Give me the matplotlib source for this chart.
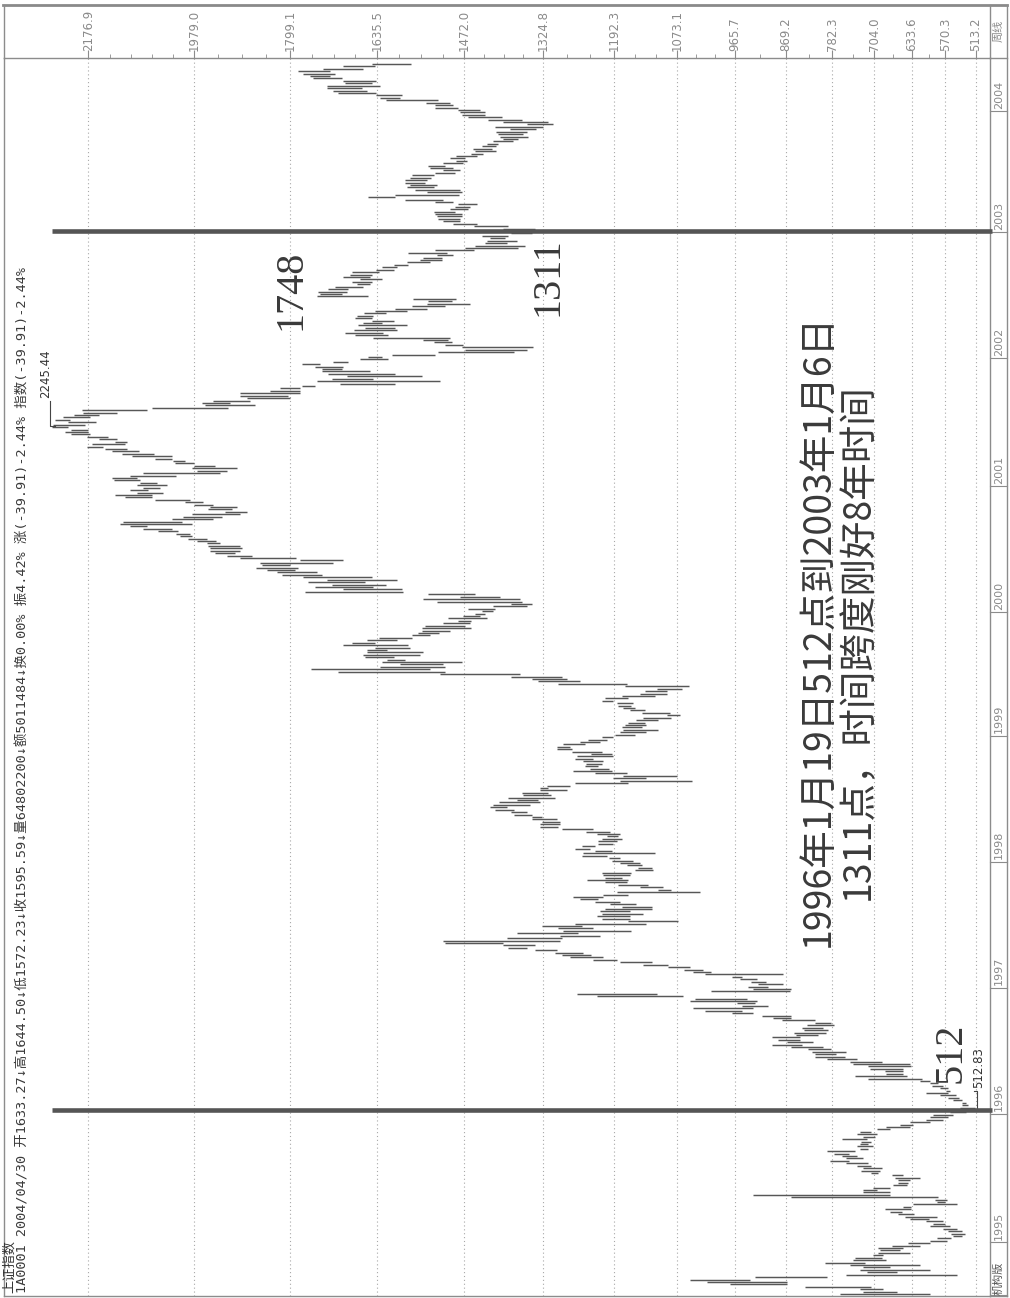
import numpy as np
import matplotlib
matplotlib.use("Agg")
import matplotlib.pyplot as plt
from matplotlib.lines import Line2D
from matplotlib import transforms

# weekly bars of the Shanghai Composite (low, high), oldest week first
lo_1994 = [599, 662, 687, 709, 868, 868, 937, 793, 549, 662, 599, 674, 618, 721, 681, 690, 687, 637, 656, 649, 618, 599]
hi_1994 = [768, 724, 730, 834, 974, 1018, 1049, 927, 756, 718, 730, 724, 749, 796, 743, 740, 706, 696, 693, 696, 671, 640]

lo_1995 = [568, 559, 540, 534, 540, 549, 562, 571, 575, 602, 587, 630, 652, 634, 634, 549, 571, 568, 584, 674,
           674, 699, 674, 643, 640, 637, 618, 649, 696, 693, 690, 709, 715, 752, 724, 737, 752, 740, 715, 706,
           715, 709, 718, 702, 699, 709, 674, 637, 631, 599, 575, 565, 556]
hi_1995 = [599, 587, 556, 559, 565, 575, 599, 593, 606, 637, 646, 660, 674, 684, 649, 631, 587, 590, 859, 931,
           724, 724, 706, 668, 659, 659, 665, 671, 709, 728, 724, 737, 756, 787, 756, 765, 780, 793, 730, 737,
           730, 728, 765, 724, 737, 730, 699, 681, 656, 637, 606, 600, 593]

lo_1996 = [531, 512.83, 515, 528, 531, 540, 545, 550, 565, 562, 565, 575, 584, 599, 615, 643, 649, 649, 649, 634,
           637, 690, 737, 759, 775, 756, 784, 799, 840, 818, 843, 843, 810, 795, 790, 800, 780, 785, 815, 859,
           859, 931, 952, 931, 903, 927, 924, 943, 1062, 1112, 862, 859]
hi_1996 = [561, 535, 543, 540, 540, 556, 565, 580, 606, 570, 581, 595, 599, 618, 715, 740, 681, 684, 712, 715,
           743, 750, 793, 815, 815, 821, 828, 859, 896, 868, 884, 896, 850, 855, 835, 840, 830, 815, 877, 893,
           915, 971, 1021, 1043, 952, 962, 1049, 1040, 1224, 1262, 1009, 931]

lo_1997 = [903, 874, 906, 924, 952, 874, 1009, 1025, 1049, 1090, 1121, 1187, 1212, 1235, 1249, 1299, 1355, 1340, 1399, 1293,
           1290, 1218, 1259, 1159, 1231, 1252, 1131, 1071, 1162, 1162, 1137, 1162, 1121, 1121, 1150, 1180, 1221, 1212, 1165, 1030,
           1084, 1099, 1128, 1168, 1165, 1177, 1162, 1159, 1118, 1121, 1140, 1143]
hi_1997 = [940, 921, 934, 956, 971, 1021, 1043, 1060, 1090, 1137, 1180, 1231, 1274, 1290, 1302, 1340, 1390, 1399, 1509, 1512,
           1393, 1293, 1374, 1287, 1296, 1327, 1265, 1165, 1215, 1224, 1215, 1218, 1209, 1177, 1200, 1227, 1255, 1268, 1212, 1187,
           1109, 1143, 1184, 1209, 1243, 1209, 1212, 1215, 1152, 1146, 1168, 1180]

lo_1998 = [1156, 1180, 1205, 1115, 1196, 1237, 1227, 1193, 1187, 1177, 1184, 1180, 1200, 1231, 1296, 1293, 1293, 1299, 1327, 1346,
           1355, 1380, 1393, 1349, 1330, 1334, 1302, 1309, 1315, 1280, 1315, 1274, 1165, 1046, 1131, 1074, 1168, 1196, 1202, 1221,
           1215, 1212, 1231, 1193, 1196, 1215, 1271, 1274, 1246, 1218, 1205, 1193]
hi_1998 = [1196, 1202, 1252, 1249, 1227, 1265, 1252, 1221, 1221, 1215, 1205, 1224, 1245, 1290, 1330, 1330, 1327, 1346, 1346, 1380,
           1384, 1415, 1424, 1418, 1408, 1374, 1390, 1362, 1365, 1330, 1330, 1318, 1265, 1180, 1193, 1174, 1227, 1268, 1237, 1246,
           1245, 1249, 1265, 1262, 1234, 1271, 1299, 1299, 1287, 1255, 1240, 1215]

lo_1999 = [1152, 1131, 1109, 1140, 1131, 1134, 1110, 1084, 1068, 1087, 1134, 1152, 1159, 1156, 1193, 1165, 1115, 1093, 1093, 1065,
           1052, 1168, 1255, 1280, 1290, 1368, 1509, 1537, 1509, 1512, 1477, 1584, 1605, 1555, 1549, 1618, 1574, 1577, 1640, 1599,
           1571, 1537, 1520, 1499, 1459, 1471, 1462, 1459, 1430, 1443, 1434]
hi_1999 = [1190, 1180, 1174, 1177, 1171, 1165, 1150, 1137, 1093, 1140, 1162, 1174, 1184, 1187, 1215, 1209, 1177, 1143, 1134, 1112,
           1171, 1296, 1334, 1345, 1384, 1518, 1709, 1759, 1630, 1593, 1627, 1618, 1658, 1662, 1655, 1655, 1640, 1699, 1683, 1655,
           1633, 1571, 1560, 1552, 1552, 1546, 1512, 1484, 1502, 1474, 1452]

lo_2000 = [1418, 1415, 1355, 1346, 1365, 1368, 1405, 1452, 1587, 1590, 1643, 1620, 1658, 1599, 1646, 1740, 1749, 1790, 1784, 1799,
           1718, 1699, 1787, 1871, 1902, 1893, 1890, 1893, 1930, 1937, 1955, 1983, 1987, 2009, 2021, 2068, 1983, 2002, 1943, 1927,
           1893, 1880, 1908, 1899, 1943, 1962, 1987, 2058, 2058, 2037, 2065, 2043]
hi_2000 = [1440, 1465, 1418, 1384, 1524, 1549, 1480, 1540, 1771, 1699, 1752, 1720, 1765, 1730, 1774, 1815, 1824, 1843, 1862, 1852,
           1855, 1780, 1893, 1918, 1940, 1949, 1949, 1952, 1955, 1974, 1990, 2005, 2012, 2046, 2074, 2099, 2118, 2112, 2021, 1999,
           1983, 1921, 1952, 1949, 1980, 1996, 2052, 2108, 2127, 2086, 2099, 2074]

lo_2001 = [2030, 2049, 2080, 2086, 2012, 1930, 1918, 1899, 1940, 1980, 1996, 2021, 2021, 2055, 2083, 2105, 2149, 2109, 2105, 2124,
           2140, 2174, 2177, 2177, 2215, 2184, 2162, 2212, 2174, 2158, 2124, 2068, 1915, 1865, 1912, 1874, 1799, 1803, 1780, 1780,
           1780, 1752, 1602, 1518, 1643, 1552, 1602, 1649, 1702, 1699, 1743, 1690, 1615]
hi_2001 = [2086, 2080, 2130, 2133, 2099, 2074, 1974, 1983, 1980, 2015, 2018, 2052, 2096, 2115, 2133, 2146, 2180, 2171, 2128, 2158,
           2180, 2209, 2221, 2209, 2245.44, 2243, 2215, 2240, 2224, 2205, 2187, 2190, 2058, 1959, 1965, 1943, 1880, 1893, 1893, 1837,
           1818, 1777, 1705, 1749, 1721, 1693, 1727, 1740, 1740, 1752, 1777, 1718, 1668]

lo_2002 = [1627, 1527, 1380, 1355, 1343, 1474, 1496, 1502, 1499, 1615, 1624, 1599, 1602, 1580, 1627, 1605, 1646, 1643, 1620, 1580,
           1543, 1509, 1462, 1496, 1487, 1652, 1702, 1693, 1690, 1662, 1649, 1646, 1627, 1649, 1646, 1633, 1605, 1599, 1577, 1537,
           1515, 1515, 1493, 1505, 1455, 1371, 1358, 1393, 1374, 1396, 1390, 1345]
hi_2002 = [1652, 1608, 1521, 1471, 1477, 1509, 1530, 1549, 1643, 1677, 1696, 1680, 1658, 1671, 1662, 1646, 1677, 1674, 1660, 1640,
           1602, 1571, 1543, 1540, 1568, 1748.89, 1743, 1746, 1727, 1715, 1674, 1683, 1668, 1699, 1687, 1683, 1637, 1627, 1605, 1580,
           1555, 1549, 1524, 1577, 1527, 1471, 1452, 1433, 1430, 1424, 1440, 1385]

lo_2003 = [1311, 1340, 1390, 1449, 1480, 1480, 1477, 1477, 1490, 1465, 1462, 1449, 1493, 1512, 1602, 1483, 1477, 1480, 1530, 1524,
           1546, 1543, 1534, 1530, 1490, 1480, 1493, 1509, 1475, 1468, 1471, 1449, 1437, 1412, 1421, 1412, 1409, 1381, 1372, 1353,
           1362, 1355, 1337, 1324, 1307, 1315, 1365, 1402, 1434, 1434]
hi_2003 = [1360, 1400, 1455, 1493, 1512, 1521, 1524, 1527, 1530, 1499, 1490, 1484, 1527, 1584, 1652, 1602, 1543, 1565, 1580, 1574,
           1584, 1584, 1574, 1571, 1527, 1512, 1537, 1540, 1512, 1487, 1499, 1487, 1459, 1452, 1456, 1440, 1430, 1418, 1400, 1405,
           1409, 1412, 1387, 1415, 1355, 1400, 1428, 1465, 1477, 1480]

lo_2004 = [1443, 1484, 1493, 1500, 1522, 1593, 1590, 1637, 1655, 1665, 1630, 1646, 1637, 1702, 1724, 1715, 1724, 1662, 1640, 1572.23]
hi_2004 = [1484, 1527, 1527, 1545, 1619, 1630, 1637, 1709, 1718, 1730, 1730, 1696, 1699, 1756, 1762, 1774, 1784, 1737, 1699, 1644.50]

years = [1994, 1995, 1996, 1997, 1998, 1999, 2000, 2001, 2002, 2003, 2004]
lows = [lo_1994, lo_1995, lo_1996, lo_1997, lo_1998, lo_1999, lo_2000, lo_2001, lo_2002, lo_2003, lo_2004]
highs = [hi_1994, hi_1995, hi_1996, hi_1997, hi_1998, hi_1999, hi_2000, hi_2001, hi_2002, hi_2003, hi_2004]

price_ticks = [2176.9, 1979.0, 1799.1, 1635.5, 1472.0, 1324.8, 1192.3, 1073.1, 965.7, 869.2, 782.3, 704.0, 633.6, 570.3, 513.2]

header1 = "上证指数"
header2 = ("1A0001 2004/04/30 开1633.27↓高1644.50↓低1572.23↓收1595.59↓量64802200↓额5011484↓"
           "换0.00% 振4.42% 涨(-39.91)-2.44% 指数(-39.91)-2.44%")
note1 = "1996年1月19日512点到2003年1月6日"
note2 = "1311点，时间跨度刚好8年时间"

W, H = 1010, 1298
CJK = ['Noto Sans CJK SC', 'DejaVu Sans']
MONO = ['DejaVu Sans Mono', 'Noto Sans CJK SC']
GRAY = '#8c8c8c'
BAR = '#575757'


def fx(x):
    return x / W


def fy(y):
    return 1 - y / H


lo = np.concatenate(lows)
hi = np.concatenate(highs)
n = len(lo)
idx = np.arange(n)
starts = np.cumsum([0] + [len(a) for a in lows])[:-1]

fig = plt.figure(figsize=(W / 100, H / 100), dpi=100)
fig.patch.set_facecolor('white')

ax = fig.add_axes([fx(4), fy(1296), fx(990) - fx(4), fy(58) - fy(1296)])
ax.set_xlim(2335.3, 486.8)
ax.set_ylim(-0.8, n + 1.45)

# weekly bars
ax.hlines(idx, lo, hi, colors=BAR, lw=1.05, zorder=2)

# the two marker lines: the 512.83 low week and the first week of 2003
i_low = int(np.argmin(lo))
i_2003 = starts[years.index(2003)]
ax.hlines([i_2003, i_low], hi.max(), 483.0, colors='#555555', lw=3.3, zorder=3, clip_on=False)

# price grid and top scale
ax.set_xticks(price_ticks)
ax.set_xticklabels(['%.1f' % p for p in price_ticks])
minor = []
for a, b in zip(price_ticks[:-1], price_ticks[1:]):
    k = max(1, int(round((a - b) / 42.0)))
    minor += list(np.linspace(a, b, k + 1)[1:-1])
ax.set_xticks(minor, minor=True)
ax.xaxis.tick_top()
ax.tick_params(axis='x', which='major', direction='out', length=6, width=0.8, color=GRAY,
               labelsize=8.5, labelcolor='#8a8a8a', labelrotation=90, pad=-1)
ax.tick_params(axis='x', which='minor', direction='out', length=3, width=0.6, color=GRAY)
ax.grid(axis='x', which='major', color='#a8a8a8', ls=(0, (1, 2.5)), lw=0.8)
ax.set_yticks([])
for s in ax.spines.values():
    s.set_color(GRAY)
    s.set_linewidth(1.0)

# year strip on the right
trans = transforms.blended_transform_factory(fig.transFigure, ax.transData)
for y, s in zip(years, starts):
    b = s - 0.5
    ax.plot([fx(990), fx(1007)], [b, b], transform=trans, color=GRAY, lw=0.8, clip_on=False)
    if y >= 1995:
        ax.text(fx(999), b + 1.0, str(y), transform=trans, rotation=90, ha='center', va='bottom',
                fontsize=8, color='#8a8a8a')

# outer frame
fig.add_artist(Line2D([fx(3), fx(1007)], [fy(5), fy(5)], color='#8a8a8a', lw=2.0))
fig.add_artist(Line2D([fx(1007), fx(1007)], [fy(5), fy(1296)], color=GRAY, lw=1.0))
fig.add_artist(Line2D([fx(4), fx(4)], [fy(5), fy(58)], color=GRAY, lw=1.0))
fig.add_artist(Line2D([fx(990), fx(990)], [fy(5), fy(58)], color=GRAY, lw=1.0))
fig.add_artist(Line2D([fx(990), fx(1007)], [fy(58), fy(58)], color=GRAY, lw=1.0))
fig.add_artist(Line2D([fx(990), fx(1007)], [fy(1296), fy(1296)], color=GRAY, lw=1.0))
fig.text(fx(999), fy(31), "周线", rotation=90, ha='center', va='center', fontsize=8,
         color='#8a8a8a', family=CJK)
fig.text(fx(999), fy(1278), "机构版", rotation=90, ha='center', va='center', fontsize=8,
         color='#555555', family=CJK)

# header along the left edge
fig.text(fx(10), fy(1293), header1, rotation=90, ha='center', va='bottom', fontsize=9.5,
         color='#333333', family=CJK)
fig.text(fx(23), fy(1293), header2, rotation=90, ha='center', va='bottom', fontsize=9.7,
         color='#3a3a3a', family=MONO)

# peak / trough labels
i_peak = int(np.argmax(hi))
ax.plot([hi.max() + 3, hi.max() + 3, hi.max() - 5], [i_peak + 11, i_peak + 0.6, i_peak + 0.6],
        color='#444444', lw=0.8, clip_on=False)
ax.text(hi.max() + 12, i_peak + 12, "%.2f" % hi.max(), rotation=90, ha='center', va='bottom',
        fontsize=8.5, color='#333333')
ax.plot([lo.min() - 2, lo.min() - 2, lo.min() + 4], [i_low + 0.6, i_low + 8, i_low + 8],
        color='#444444', lw=0.8, clip_on=False)
ax.text(lo.min() - 4, i_low + 9, "%.2f" % lo.min(), rotation=90, ha='center', va='bottom',
        fontsize=8.5, color='#333333', clip_on=False)

# big annotations
fig.text(fx(291), fy(290), "1748", rotation=90, ha='center', va='center', fontsize=29,
         color='#3a3a3a', family='Liberation Serif')
fig.text(fx(548), fy(277), "1311", rotation=90, ha='center', va='center', fontsize=29,
         color='#3a3a3a', family='Liberation Serif')
fig.text(fx(951), fy(1053), "512", rotation=90, ha='center', va='center', fontsize=29,
         color='#3a3a3a', family='Liberation Serif')
fig.text(fx(818), fy(630), note1, rotation=90, ha='center', va='center', fontsize=27,
         color='#3a3a3a', family=CJK)
fig.text(fx(858), fy(642), note2, rotation=90, ha='center', va='center', fontsize=27,
         color='#3a3a3a', family=CJK)

fig.savefig('out.png', dpi=100, facecolor='white')
